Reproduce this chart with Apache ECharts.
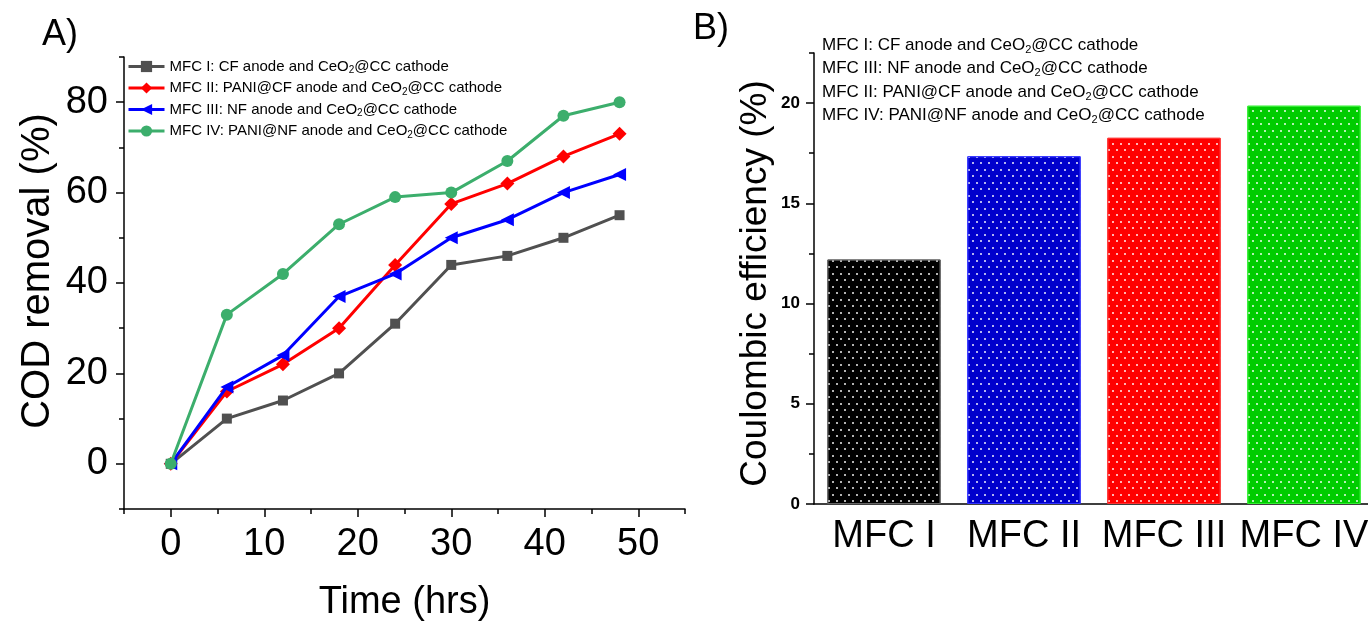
<!DOCTYPE html>
<html><head><meta charset="utf-8">
<script src="https://cdn.jsdelivr.net/npm/echarts@6/dist/echarts.min.js"></script>
<style>html,body{margin:0;padding:0;background:#fff}#c{width:1368px;height:621px}</style>
</head><body><div id="c"></div>
<script>
// ---------- data ----------
const timeHrs = [0, 6, 12, 18, 24, 30, 36, 42, 48];
const codMfc1 = [0, 10, 14, 20, 31, 44, 46, 50, 55];
const codMfc2 = [0, 16, 22, 30, 44, 57.5, 62, 68, 73];
const codMfc3 = [0, 17, 24, 37, 42, 50, 54, 60, 64];
const codMfc4 = [0, 33, 42, 53, 59, 60, 67, 77, 80];
const legendA = [
  'MFC I: CF anode and CeO2@CC cathode',
  'MFC II: PANI@CF anode and CeO2@CC cathode',
  'MFC III: NF anode and CeO2@CC cathode',
  'MFC IV: PANI@NF anode and CeO2@CC cathode'
];
const timeTicks = [0, 10, 20, 30, 40, 50];
const timeMinorTicks = [-5, 5, 15, 25, 35, 45, 55];
const codTicks = [0, 20, 40, 60, 80];
const codMinorTicks = [-10, 10, 30, 50, 70, 90];

const cefCategories = ['MFC I', 'MFC II', 'MFC III', 'MFC IV'];
const cefValues = [12.2, 17.35, 18.27, 19.87];
const cefTicks = [0, 5, 10, 15, 20];
const cefMinorTicks = [2.5, 7.5, 12.5, 17.5, 22.5];
const legendB = [
  'MFC I: CF anode and CeO2@CC cathode',
  'MFC III: NF anode and CeO2@CC cathode',
  'MFC II: PANI@CF anode and CeO2@CC cathode',
  'MFC IV: PANI@NF anode and CeO2@CC cathode'
];

// ---------- styles ----------
const FONT = '"Liberation Sans", Arial, Helvetica, sans-serif';
const lineColors = ['#505050', '#ff0000', '#0000ff', '#3cae6c'];
const lineSymbols = ['rect', 'diamond', 'triangle', 'circle'];
const lineSymbolSizes = [10, 14, 13, 12];
const lineSymbolRot = [0, 0, 90, 0];
const barColors = ['#000000', '#0000cc', '#ff0000', '#00cc00'];
const barBorders = ['#666666', '#3333ff', '#ff3333', '#33ee33'];

function subFmt(s) { return s.replace('CeO2', 'CeO{s|2}'); }

const codSeriesData = [codMfc1, codMfc2, codMfc3, codMfc4];

const chart = echarts.init(document.getElementById('c'), null, { renderer: 'canvas' });

const axisLineStyle = { color: '#000', width: 1.5 };

const option = {
  animation: false,
  backgroundColor: '#fff',
  textStyle: { fontFamily: FONT },
  grid: [
    { left: 124, top: 57, width: 561, height: 452, containLabel: false, outerBoundsMode: 'none' },
    { left: 814, top: 53, width: 560, height: 451, containLabel: false, outerBoundsMode: 'none' }
  ],
  legend: {
    orient: 'vertical',
    left: 127, top: 57.5, padding: 0,
    itemWidth: 36, itemHeight: 14, itemGap: 3.5,
    lineStyle: { width: 3 },
    data: legendA,
    formatter: subFmt,
    textStyle: {
      fontSize: 15, fontFamily: FONT, color: '#000', lineHeight: 18,
      rich: { s: { fontSize: 10, fontFamily: FONT, color: '#000', lineHeight: 10, padding: [5, 0, 0, 0], verticalAlign: 'bottom' } }
    }
  },
  xAxis: [
    {
      gridIndex: 0, type: 'value', min: -5, max: 55, position: 'bottom',
      axisLine: { onZero: false, lineStyle: axisLineStyle },
      axisTick: { customValues: timeTicks, length: 8, lineStyle: { color: '#000', width: 1.5 } },
      axisLabel: { customValues: timeTicks, fontSize: 38, margin: 17, color: '#000', fontFamily: FONT },
      splitLine: { show: false },
      name: 'Time (hrs)', nameLocation: 'middle', nameGap: 75,
      nameTextStyle: { fontSize: 38, color: '#000', fontFamily: FONT }
    },
    {
      gridIndex: 0, type: 'value', min: -5, max: 55, position: 'bottom',
      axisLine: { show: false, onZero: false },
      axisTick: { customValues: timeMinorTicks, length: 5, lineStyle: { color: '#000', width: 1.5 } },
      axisLabel: { show: false }, splitLine: { show: false }
    },
    {
      gridIndex: 1, type: 'category', data: cefCategories, position: 'bottom',
      axisLine: { lineStyle: axisLineStyle },
      axisTick: { alignWithLabel: true, length: 8, lineStyle: { color: '#000', width: 1.5 } },
      axisLabel: { interval: 0, fontSize: 38, margin: 14, color: '#000', fontFamily: FONT },
      splitLine: { show: false }
    },
    {
      gridIndex: 1, type: 'category', data: cefCategories, position: 'bottom',
      axisLine: { show: false },
      axisTick: { interval: 0, length: 5, lineStyle: { color: '#000', width: 1.5 } },
      axisLabel: { show: false }, splitLine: { show: false }
    }
  ],
  yAxis: [
    {
      gridIndex: 0, type: 'value', min: -10, max: 90, position: 'left',
      axisLine: { show: true, onZero: false, lineStyle: axisLineStyle },
      axisTick: { show: true, customValues: codTicks, length: 8, lineStyle: { color: '#000', width: 1.5 } },
      axisLabel: { customValues: codTicks, fontSize: 38, margin: 16, color: '#000', fontFamily: FONT },
      splitLine: { show: false },
      name: 'COD removal (%)', nameLocation: 'middle', nameGap: 66,
      nameTextStyle: { fontSize: 40, color: '#000', fontFamily: FONT, padding: [0, 0, 0, 24] }
    },
    {
      gridIndex: 0, type: 'value', min: -10, max: 90, position: 'left',
      axisLine: { show: false, onZero: false },
      axisTick: { show: true, customValues: codMinorTicks, length: 5, lineStyle: { color: '#000', width: 1.5 } },
      axisLabel: { show: false }, splitLine: { show: false }
    },
    {
      gridIndex: 1, type: 'value', min: 0, max: 22.5, position: 'left',
      axisLine: { show: true, onZero: false, lineStyle: axisLineStyle },
      axisTick: { show: true, customValues: cefTicks, length: 8, lineStyle: { color: '#000', width: 1.5 } },
      axisLabel: { customValues: cefTicks, fontSize: 17, fontWeight: 'bold', margin: 14, color: '#000', fontFamily: FONT },
      splitLine: { show: false },
      name: 'Coulombic efficiency (%)', nameLocation: 'middle', nameGap: 40,
      nameTextStyle: { fontSize: 37, color: '#000', fontFamily: FONT, padding: [0, 10, 0, 0] }
    },
    {
      gridIndex: 1, type: 'value', min: 0, max: 22.5, position: 'left',
      axisLine: { show: false, onZero: false },
      axisTick: { show: true, customValues: cefMinorTicks, length: 5, lineStyle: { color: '#000', width: 1.5 } },
      axisLabel: { show: false }, splitLine: { show: false }
    }
  ],
  series: codSeriesData.map((vals, i) => ({
    name: legendA[i], type: 'line', xAxisIndex: 0, yAxisIndex: 0,
    data: timeHrs.map((t, j) => [t, vals[j]]),
    symbol: lineSymbols[i], symbolSize: lineSymbolSizes[i], symbolRotate: lineSymbolRot[i],
    showAllSymbol: true,
    lineStyle: { width: 3, color: lineColors[i] },
    itemStyle: { color: lineColors[i] },
    z: 2 + i
  })).concat([{
    type: 'bar', xAxisIndex: 2, yAxisIndex: 2, barWidth: '81%',
    data: cefValues.map((v, i) => ({ value: v, itemStyle: { color: barColors[i], borderColor: barBorders[i] } })),
    itemStyle: {
      borderWidth: 1,
      decal: {
        symbol: 'rect', symbolSize: 1, color: 'rgba(255,255,255,0.7)',
        dashArrayX: [[2, 6], [0, 4, 2, 2]],
        dashArrayY: [2, 4, 2, 5],
        rotation: 0
      }
    }
  }]),
  graphic: [
    { type: 'text', left: 42, top: 17, style: { text: 'A)', fontSize: 36, fontFamily: FONT, fill: '#000' } },
    { type: 'text', left: 693, top: 11, style: { text: 'B)', fontSize: 36, fontFamily: FONT, fill: '#000' } }
  ].concat(legendB.map((t, i) => ({
    type: 'text', x: 822, y: [45, 68.5, 92, 115.5][i],
    style: {
      text: subFmt(t), fontSize: 17, fontFamily: FONT, fill: '#000', verticalAlign: 'middle', lineHeight: 20,
      rich: { s: { fontSize: 11, fontFamily: FONT, fill: '#000', lineHeight: 11, padding: [6, 0, 0, 0], verticalAlign: 'bottom' } }
    }
  })))
};
chart.setOption(option);
</script></body></html>
